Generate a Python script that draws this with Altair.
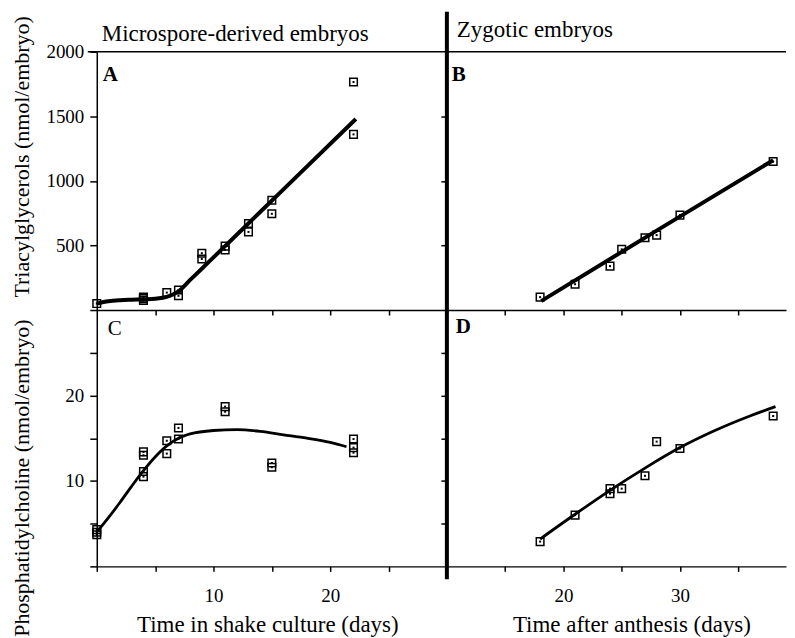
import altair as alt
import pandas as pd

FONT = "'Liberation Serif', 'Times New Roman', Times, 'DejaVu Serif', serif"

# ---------------- data ----------------
# A: triacylglycerols, microspore-derived embryos (nmol/embryo) vs days in shake culture
a_day = [0, 4, 4, 4, 6, 7, 7, 9, 9, 11, 11, 13, 13, 15, 15, 22, 22]
a_tag = [50, 75, 88, 100, 135, 155, 110, 440, 395, 495, 465, 670, 605, 850, 745, 1765, 1360]
a_fit_day = [0, 1, 2, 3, 4, 5, 6, 7, 8, 9, 10, 14, 18, 22.2]
a_fit_tag = [50, 68, 76, 80, 83, 88, 102, 145, 233, 320, 408, 759, 1110, 1479]

# B: triacylglycerols, zygotic embryos vs days after anthesis
b_day = [18, 21, 24, 25, 27, 28, 30, 38]
b_tag = [100, 200, 340, 470, 560, 580, 735, 1150]
b_fit_day = [18.1, 28, 38]
b_fit_tag = [70, 615, 1160]

# C: phosphatidylcholine, microspore-derived embryos
c_day = [0, 0, 0, 4, 4, 4, 4, 6, 6, 7, 7, 11, 11, 15, 15, 22, 22, 22]
c_pc = [3.7, 4.0, 4.3, 13.4, 13.0, 11.1, 10.5, 14.7, 13.2, 16.2, 14.9, 18.7, 18.1, 12.1, 11.6, 14.9, 13.9, 13.3]
c_fit_day = [0, 1, 2, 3, 4, 5, 6, 7, 8, 10, 12, 14, 16, 18, 20, 21.4]
c_fit_pc = [4.0, 5.7, 7.5, 9.4, 11.2, 12.8, 14.1, 15.0, 15.5, 15.9, 16.0, 15.8, 15.4, 15.0, 14.5, 14.0]

# D: phosphatidylcholine, zygotic embryos
d_day = [18, 21, 24, 24, 25, 27, 28, 30, 38]
d_pc = [2.9, 6.0, 9.1, 8.5, 9.1, 10.6, 14.6, 13.8, 17.6]
d_fit_day = [18, 21, 24, 27, 30, 33, 36, 38.2]
d_fit_pc = [3.2, 6.1, 8.9, 11.5, 13.9, 15.9, 17.6, 18.7]

panel_letters = ["A", "B", "C", "D"]
column_titles = ["Microspore-derived embryos", "Zygotic embryos"]
y_titles = ["Triacylglycerols (nmol/embryo)", "Phosphatidylcholine (nmol/embryo)"]
x_titles = ["Time in shake culture (days)", "Time after anthesis (days)"]

LW, RW = 351, 340   # panel widths
TH, BH = 259, 257   # panel heights


def one(text):
    return pd.DataFrame({"t": [text]})


def panel(day, val, fday, fval, xenc, yenc, w, h, lw, letter, lpos, extras):
    obs = pd.DataFrame({"x": day, "y": val})
    fit = pd.DataFrame({"x": fday, "y": fval})
    line = alt.Chart(fit).mark_line(color="black", strokeWidth=lw, interpolate="monotone").encode(x=xenc, y=yenc)
    sq = alt.Chart(obs).mark_point(shape="square", size=58, filled=False, color="black",
                                   strokeWidth=1.5, opacity=1).encode(x=xenc, y=yenc)
    dot = alt.Chart(obs).mark_point(shape="square", size=4, filled=True, color="black", opacity=1).encode(x=xenc, y=yenc)
    let = alt.Chart(one(letter)).mark_text(font=FONT, fontSize=21, fontWeight="bold" if letter != "C" else "normal",
                                          align="left", baseline="alphabetic", color="black").encode(
        text="t:N", x=alt.value(lpos[0]), y=alt.value(lpos[1]))
    return alt.layer(line, sq, dot, let, *extras).properties(width=w, height=h)


tick_kw = dict(tickColor="black", tickWidth=1.5, domainColor="black", domainWidth=1.5, grid=False)

# ---- panel A
xA = alt.X("x:Q", scale=alt.Scale(domain=[0, 30], nice=False, zero=False),
           axis=alt.Axis(values=[5, 10, 15, 20, 25], labels=False, tickSize=5, title=None, **tick_kw))
yA = alt.Y("y:Q", scale=alt.Scale(domain=[0, 2000], nice=False),
           axis=alt.Axis(values=[0, 500, 1000, 1500, 2000], format="d", labelExpr="datum.value == 0 ? '' : datum.label",
                         tickSize=7, labelPadding=6, title=y_titles[0], titleX=-63, titleY=105, titleFontSize=22, **tick_kw))
extraA = [
    alt.Chart(one("d")).mark_rule(color="black", strokeWidth=4).encode(x=alt.value(LW), y=alt.value(-40), y2=alt.value(TH)),
    alt.Chart(one("t")).mark_rule(color="black", strokeWidth=1.5).encode(x=alt.value(-9), x2=alt.value(LW), y=alt.value(0)),
    alt.Chart(one(column_titles[0])).mark_text(font=FONT, fontSize=23, align="left", baseline="alphabetic", color="black").encode(
        text="t:N", x=alt.value(5), y=alt.value(-11)),
]
A = panel(a_day, a_tag, a_fit_day, a_fit_tag, xA, yA, LW, TH, 4, "A", (6, 29), extraA)

# ---- panel B
xB = alt.X("x:Q", scale=alt.Scale(domain=[10, 39.1], nice=False, zero=False),
           axis=alt.Axis(values=[15, 20, 25, 30, 35], labels=False, tickSize=5, title=None, **tick_kw))
yB = alt.Y("y:Q", scale=alt.Scale(domain=[0, 2000], nice=False),
           axis=alt.Axis(values=[500, 1000, 1500], labels=False, tickSize=6, title=None, **tick_kw))
extraB = [
    alt.Chart(one("t")).mark_rule(color="black", strokeWidth=1.5).encode(x=alt.value(0), x2=alt.value(RW), y=alt.value(0)),
    alt.Chart(one(column_titles[1])).mark_text(font=FONT, fontSize=23, align="left", baseline="alphabetic", color="black").encode(
        text="t:N", x=alt.value(10), y=alt.value(-15)),
]
B = panel(b_day, b_tag, b_fit_day, b_fit_tag, xB, yB, RW, TH, 4, "B", (5, 29), extraB)

# ---- panel C
xC = alt.X("x:Q", scale=alt.Scale(domain=[0, 30], nice=False, zero=False),
           axis=alt.Axis(values=[0, 5, 10, 15, 20, 25], labelExpr="datum.value == 10 || datum.value == 20 ? datum.label : ''",
                         tickSize=5, labelPadding=15, title=x_titles[0], titleBaseline="alphabetic",
                         titleX=171, titleY=65, titleFontSize=23, **tick_kw))
yC = alt.Y("y:Q", scale=alt.Scale(domain=[0, 30], nice=False),
           axis=alt.Axis(values=[0, 5, 10, 15, 20, 25], labelExpr="datum.value == 10 || datum.value == 20 ? datum.label : ''",
                         tickSize=7, labelPadding=6, title=y_titles[1], titleX=-63, titleY=168, titleFontSize=22, **tick_kw))
extraC = [
    alt.Chart(one("d")).mark_rule(color="black", strokeWidth=4).encode(x=alt.value(LW), y=alt.value(0), y2=alt.value(BH + 13)),
]
C = panel(c_day, c_pc, c_fit_day, c_fit_pc, xC, yC, LW, BH, 2.8, "C", (11, 25), extraC)

# ---- panel D
xD = alt.X("x:Q", scale=alt.Scale(domain=[10, 39.1], nice=False, zero=False),
           axis=alt.Axis(values=[15, 20, 25, 30, 35], labelExpr="datum.value == 20 || datum.value == 30 ? datum.label : ''",
                         tickSize=5, labelPadding=15, title=x_titles[1], titleBaseline="alphabetic",
                         titleX=185, titleY=65, titleFontSize=23, **tick_kw))
yD = alt.Y("y:Q", scale=alt.Scale(domain=[0, 30], nice=False),
           axis=alt.Axis(values=[5, 10, 15, 20, 25], labels=False, tickSize=6, title=None, **tick_kw))
D = panel(d_day, d_pc, d_fit_day, d_fit_pc, xD, yD, RW, BH, 2.8, "D", (9, 23), [])

chart = alt.concat(A, B, C, D, columns=2, spacing=0, bounds="flush").properties(
    padding={"left": 2, "top": 1, "right": 0, "bottom": 0}
).configure(font=FONT).configure_view(stroke=None).configure_axis(
    labelFont=FONT, titleFont=FONT, labelFontSize=19, titleFontWeight="normal",
    labelColor="black", titleColor="black"
)

chart.save("out.html", embed_options={"renderer": "svg", "actions": False})
